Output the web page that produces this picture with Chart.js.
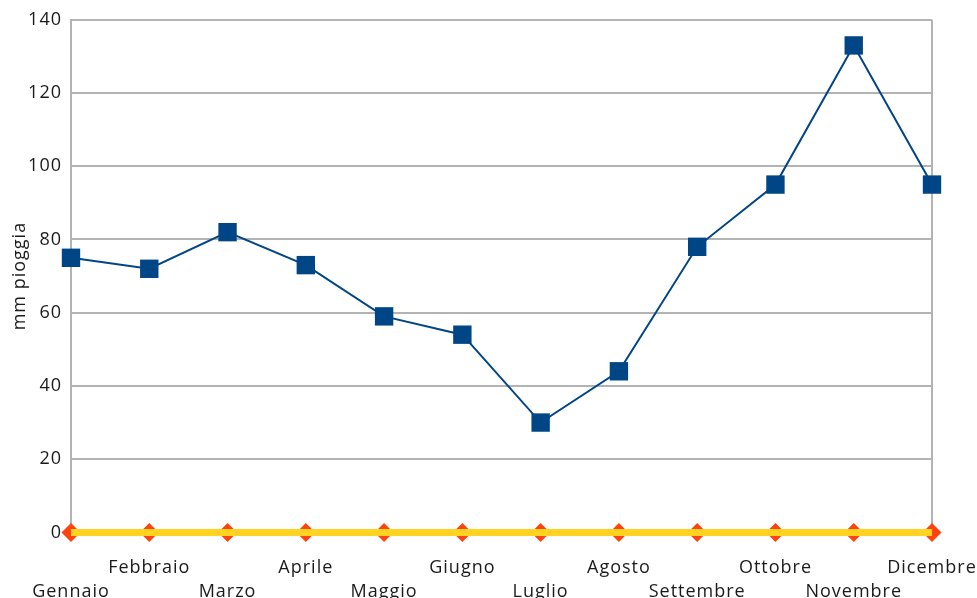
<!DOCTYPE html>
<html>
<head>
<meta charset="utf-8">
<script src="https://cdn.jsdelivr.net/npm/chart.js@4/dist/chart.umd.min.js"></script>
<style>
  html, body { margin: 0; padding: 0; background: #fff; }
  #wrap { width: 977px; height: 598px; }
</style>
</head>
<body>
<div id="wrap"><canvas id="rainChart" width="977" height="598"></canvas></div>
<script>
const months = ['Gennaio', 'Febbraio', 'Marzo', 'Aprile', 'Maggio', 'Giugno',
  'Luglio', 'Agosto', 'Settembre', 'Ottobre', 'Novembre', 'Dicembre'];
const rainMm = [75, 72, 82, 73, 59, 54, 30, 44, 78, 95, 133, 95];
const baseLine = [0, 0, 0, 0, 0, 0, 0, 0, 0, 0, 0, 0];
const yTicks = [0, 20, 40, 60, 80, 100, 120, 140];

const gridColor = '#b3b3b3';
const textColor = '#1a1a1a';
const fontFamily = '"Open Sans", sans-serif';

// etichette sfalsate su due righe: pari in basso, dispari in alto
const xLabels = months.map((m, i) => (i % 2 === 0 ? ['', m] : [m]));

// spaziatura tra lettere come nell'originale
const spacing = {
  id: 'spacing',
  beforeUpdate(chart) { chart.ctx.letterSpacing = '1px'; },
  beforeDraw(chart) { chart.ctx.letterSpacing = '1px'; }
};

const ctx = document.getElementById('rainChart').getContext('2d');
new Chart(ctx, {
  type: 'line',
  plugins: [spacing],
  data: {
    labels: xLabels,
    datasets: [
      {
        label: 'pioggia',
        data: rainMm,
        borderColor: '#004586',
        backgroundColor: '#004586',
        borderWidth: 2,
        pointStyle: 'rect',
        pointRadius: 13,
        pointBorderWidth: 0,
        pointBackgroundColor: '#004586',
        tension: 0,
        clip: false,
        order: 1
      },
      {
        label: 'linea',
        data: baseLine,
        borderColor: '#ffd320',
        borderWidth: 7,
        pointRadius: 0,
        tension: 0,
        clip: false,
        order: 2
      },
      {
        label: 'punti',
        data: baseLine,
        showLine: false,
        pointStyle: 'rectRot',
        pointRadius: 9.5,
        pointBorderWidth: 0,
        pointBackgroundColor: '#ff420e',
        clip: false,
        order: 3
      }
    ]
  },
  options: {
    responsive: false,
    animation: false,
    events: [],
    layout: { padding: { top: 10, right: 0, bottom: -29, left: 0 } },
    plugins: {
      legend: { display: false },
      tooltip: { enabled: false }
    },
    scales: {
      x: {
        offset: false,
        grid: {
          drawTicks: false,
          color: (c) => (c.index === 0 || c.index === months.length - 1 ? gridColor : 'rgba(0,0,0,0)'),
          lineWidth: 2
        },
        border: { display: false },
        afterFit: (scale) => { scale.paddingRight = 45; },
        ticks: {
          autoSkip: false,
          maxRotation: 0,
          padding: 23,
          color: textColor,
          font: { family: fontFamily, size: 18, lineHeight: 1.35 }
        }
      },
      y: {
        min: 0,
        max: 140,
        afterBuildTicks: (axis) => { axis.ticks = yTicks.map(v => ({ value: v })); },
        afterFit: (scale) => { scale.width = 71; },
        grid: { drawTicks: false, color: gridColor, lineWidth: 2 },
        border: { display: true, color: gridColor, width: 2 },
        ticks: {
          padding: 9,
          color: textColor,
          font: { family: fontFamily, size: 18 }
        },
        title: {
          display: true,
          text: 'mm pioggia',
          color: textColor,
          padding: { top: 9, bottom: 0 },
          font: { family: fontFamily, size: 18 }
        }
      }
    }
  }
});
</script>
</body>
</html>
